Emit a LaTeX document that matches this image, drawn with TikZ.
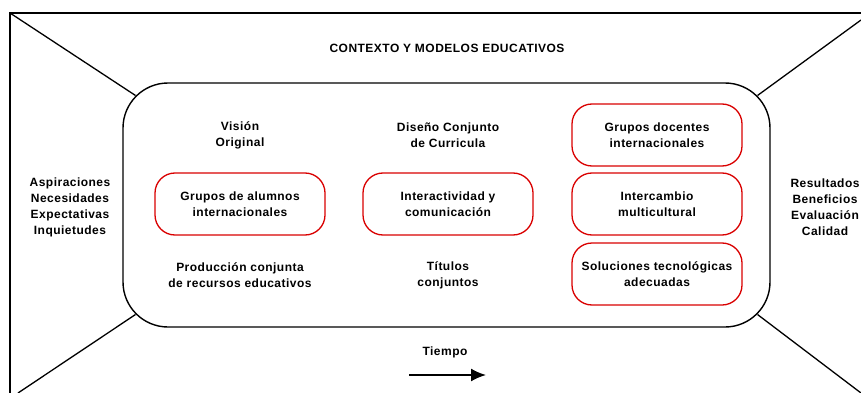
\documentclass[tikz,border=0pt]{standalone}
\usepackage{fontspec}
\setmainfont{Liberation Sans}[LetterSpace=4]
\usetikzlibrary{positioning,arrows.meta}

\begin{document}
\begin{tikzpicture}[x=1pt,y=-1pt]
       \tikzset{texto/.style = {align=center, font=\fontsize{12}{16}\selectfont\bfseries, inner sep=0pt}, }
       \tikzset{marco/.style = {rectangle, draw, line width=1.4pt, rounded corners=45pt, minimum width=647pt, minimum height=244pt}, }
       \tikzset{caja/.style = {rectangle, draw=red!85!black, line width=1.3pt, rounded corners=20pt, minimum width=170pt, minimum height=62pt, texto}, }
       \tikzset{linea/.style = {line width=1.3pt}, }
       \useasboundingbox (0,0) rectangle (861,393);

       % marco exterior
       \draw[linea] (10,393) -- (10,13) -- (861,13);
       \coordinate (eNO) at (10,13);
       \coordinate (eNE) at (861,20);
       \coordinate (eSO) at (18,393);
       \coordinate (eSE) at (861,393);

       \node[marco] (centro) at (446.5,205) {};
       \node[texto] (contexto) at (447,48) {CONTEXTO Y MODELOS EDUCATIVOS};

       % columnas de texto
       \node[texto] (vision) at (240,135) {Visión\\Original};
       \node[texto] (diseno) at (448,135) {Diseño Conjunto\\de Curricula};
       \node[texto] (produccion) at (240,275) {Producción conjunta\\de recursos educativos};
       \node[texto] (titulos) at (448,275) {Títulos\\conjuntos};
       \node[texto] (entrada) at (70,207) {Aspiraciones\\Necesidades\\Expectativas\\Inquietudes};
       \node[texto] (salida) at (825,207) {Resultados\\Beneficios\\Evaluación\\Calidad};

       % cajas rojas
       \node[caja] (alumnos) at (240,204) {Grupos de alumnos\\internacionales};
       \node[caja] (interac) at (448,204) {Interactividad y\\comunicación};
       \node[caja] (docentes) at (657,135) {Grupos docentes\\internacionales};
       \node[caja] (intercambio) at (657,204) {Intercambio\\multicultural};
       \node[caja] (soluciones) at (657,274) {Soluciones tecnológicas\\adecuadas};

       % tiempo
       \node[texto] (tiempo) at (445,352) {Tiempo};
       \coordinate (t0) at (409,375);
       \coordinate (t1) at (486,375);
       \draw[line width=1.8pt,-{Latex[length=15pt,width=13pt]}] (t0) -- (t1);

       % diagonales
       \path[draw,linea]
       (eNO) -- ([xshift=13.2pt,yshift=-13.2pt]centro.north west)
       (eNE) -- ([xshift=-13.2pt,yshift=-13.2pt]centro.north east)
       (eSO) -- ([xshift=13.2pt,yshift=13.2pt]centro.south west)
       (eSE) -- ([xshift=-13.2pt,yshift=13.2pt]centro.south east);

\end{tikzpicture}
\end{document}
